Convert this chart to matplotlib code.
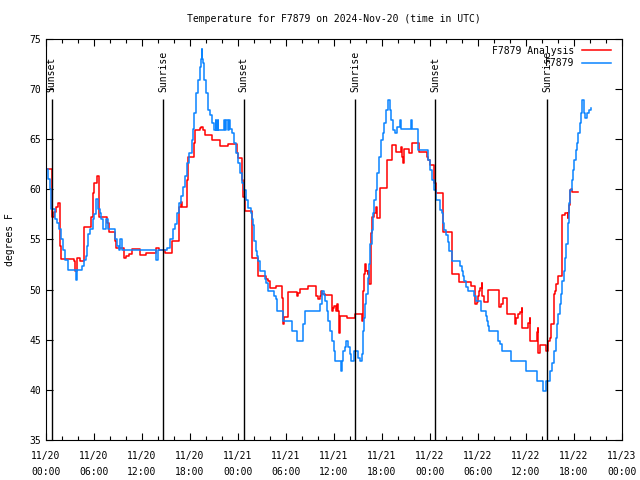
import matplotlib
matplotlib.use("Agg")
import matplotlib.pyplot as plt
from matplotlib.ticker import MultipleLocator

# hours since 2024-11-20 00:00 UTC
blue_t = [0.0, 0.3, 0.55, 0.63, 1.13, 1.38, 1.63, 1.88, 2.13, 2.38, 2.71, 3.7, 3.92,
          4.55, 4.8, 5.05, 5.17, 5.3, 5.55, 5.92, 6.05, 6.2, 6.3, 6.55, 6.7, 6.88, 7.13,
          7.5, 7.7, 8.63, 8.88, 9.1, 9.3, 9.45, 13.8, 14.0, 15.1, 15.55, 15.88, 16.13,
          16.38, 16.63, 16.88, 17.13, 17.38, 17.63, 17.88, 18.21, 18.38, 18.55, 18.8,
          19.05, 19.21, 19.38, 19.46, 19.55, 19.63, 19.8, 20.05, 20.3, 20.55, 20.8,
          20.96, 21.2, 21.3, 21.46, 21.55, 22.2, 22.38, 22.55, 22.7, 22.88, 23.05,
          23.3, 23.55, 23.8, 24.05, 24.3, 24.55, 24.8, 24.96, 25.2, 25.63, 25.71,
          25.88, 26.05, 26.21, 26.38, 26.55, 26.71, 27.38, 27.55, 27.8, 28.55, 28.71,
          28.88, 29.63, 30.8, 31.38, 32.13, 32.38, 34.3, 34.46, 34.71, 34.88, 35.13,
          35.3, 35.46, 35.71, 35.96, 36.13, 36.88, 36.96, 37.13, 37.38, 37.55, 37.8,
          37.96, 38.13, 38.55, 39.05, 39.2, 39.46, 39.63, 39.7, 39.88, 40.05, 40.21,
          40.38, 40.55, 40.71, 40.88, 41.05, 41.21, 41.38, 41.63, 41.88, 42.13, 42.3,
          42.55, 42.8, 42.96, 43.13, 43.38, 43.63, 43.88, 44.3, 44.38, 45.63, 45.8,
          46.55, 47.8, 48.05, 48.3, 48.55, 48.8, 49.21, 49.46, 49.63, 49.8, 50.05,
          50.21, 50.38, 50.8, 51.8, 51.96, 52.13, 52.3, 52.55, 52.71, 53.55, 53.8,
          54.38, 54.96, 55.13, 55.3, 55.38, 56.55, 56.8, 56.96, 58.13, 60.05, 61.38,
          62.13, 62.46, 63.05, 63.3, 63.46, 63.55, 63.71, 63.88, 64.05, 64.21, 64.38,
          64.55, 64.71, 64.88, 65.05, 65.21, 65.38, 65.55, 65.71, 65.88, 66.05, 66.21,
          66.38, 66.55, 66.71, 66.88, 67.05, 67.21, 67.38, 67.63, 67.88, 68.13]
blue_v = [62, 61, 60, 58, 57, 56.6, 56, 55, 54, 53, 52, 51, 52,
          52.4, 53, 53.4, 54.4, 55.5, 56, 57, 57.5, 58.6, 59, 58, 57.6, 57, 56,
          57, 56, 55, 54.4, 54, 55, 54, 53, 54, 54.2, 55, 56, 56.5,
          57.6, 58.6, 59.3, 60.2, 61.3, 62.6, 63.6, 64.9, 66, 67.6, 69.6,
          70.9, 72.2, 73, 74, 73, 72.6, 70.9, 69.6, 67.9, 67.4, 66.6,
          65.9, 66.9, 65.9, 66.9, 65.9, 66.9, 65.9, 66.9, 65.9, 66.9, 66,
          65.6, 64.6, 63.6, 62.6, 61.6, 60.6, 59.9, 58.9, 58.1, 57.6, 57,
          56.4, 54.9, 53.9, 53.4, 52.9, 51.9, 51.1, 50.7, 49.9, 49.4, 49.1,
          47.9, 46.9, 45.9, 44.9, 46.6, 47.9, 48.6, 49.9, 49.5, 48.9, 47.9,
          46.9, 45.9, 44.9, 43.9, 42.9, 41.9, 42.9, 43.9, 44.3, 44.9, 44.3,
          43.6, 42.9, 43.9, 43.2, 42.9, 43.6, 45.9, 47.2, 48.6, 49.6, 51.2,
          52.6, 54.6, 55.9, 57.6, 58.9, 59.9, 61.6, 63.2, 64.9, 65.6, 66.6,
          67.9, 68.9, 67.9, 66.9, 65.9, 65.6, 66.2, 66.9, 66, 66.9, 66,
          63.9, 62.9, 61.9, 60.9, 59.9, 58.9, 57.9, 57.6, 56.6, 55.9, 55.4,
          54.8, 53.9, 52.9, 52.4, 51.9, 51.4, 50.9, 50.3, 49.9, 49.4, 48.9,
          47.9, 47.4, 46.9, 46.4, 45.9, 44.9, 44.6, 43.9, 42.9, 41.9, 40.9,
          39.9, 40.9, 41.9, 42.7, 43.2, 43.9, 45.2, 46.6, 47.6, 48.6, 49.6,
          50.9, 51.9, 53.2, 54.6, 56.6, 58.6, 59.9, 60.9, 61.9, 62.9, 63.9,
          64.6, 65.6, 66.6, 67.6, 68.9, 67.6, 67.1, 67.6, 67.9, 68.1]

red_t = [0.05, 0.72, 1.05, 1.21, 1.46, 1.71, 1.8, 1.88, 3.46, 3.67, 3.88, 4.21, 4.71,
         4.8, 5.63, 5.88, 5.96, 6.38, 6.63, 7.63, 7.88, 8.63, 8.8, 9.71, 9.96, 10.38,
         10.71, 11.71, 12.55, 13.8, 14.13, 14.88, 15.71, 16.63, 16.88, 16.96, 17.63,
         17.71, 17.8, 18.46, 18.63, 19.21, 19.38, 19.63, 19.88, 20.71, 21.71, 22.71,
         23.88, 24.05, 24.46, 24.63, 24.88, 25.71, 25.8, 26.55, 27.55, 27.8, 27.96,
         28.71, 29.46, 29.63, 29.8, 30.3, 31.38, 31.55, 31.71, 32.8, 33.8, 34.05,
         34.21, 34.38, 34.55, 34.88, 35.71, 35.88, 36.05, 36.21, 36.38, 36.55, 36.63,
         36.8, 37.63, 38.63, 39.55, 39.63, 39.71, 39.88, 40.05, 40.21, 40.3, 40.38,
         40.63, 40.71, 41.05, 41.21, 41.38, 41.71, 42.63, 43.21, 43.71, 44.38, 44.55,
         44.63, 44.71, 45.38, 45.8, 46.63, 47.63, 47.8, 47.96, 48.55, 48.8, 49.63,
         50.71, 51.63, 53.13, 53.63, 53.88, 54.05, 54.13, 54.3, 54.46, 54.55, 54.8,
         55.21, 56.63, 56.88, 57.13, 57.63, 58.63, 58.8, 59.05, 59.3, 59.46, 59.55,
         60.3, 60.46, 60.55, 61.38, 61.46, 61.55, 61.71, 62.55, 62.71, 62.96, 63.13,
         63.55, 63.63, 63.71, 63.96, 64.05, 64.46, 64.55, 64.88, 65.21, 65.3, 65.38,
         65.46, 65.63, 65.8, 66.55]
red_v = [62, 57.2, 57.7, 58.2, 58.6, 57.2, 54.4, 53.1, 52.9, 51.9, 53.2, 52.9, 54.6,
         56.2, 57.2, 59.6, 60.6, 61.3, 57.2, 56.6, 55.7, 54.9, 54.2, 53.2, 53.4, 53.6,
         54.1, 53.5, 53.7, 54.2, 54.0, 53.7, 54.9, 58.2, 58.7, 58.2, 60.9,
         61.6, 63.2, 64.6, 65.9, 66.1, 66.2, 65.9, 65.4, 64.9, 64.3, 64.5,
         63.6, 63.1, 60.9, 59.2, 57.8, 56.6, 53.2, 51.4, 51.1, 50.9, 50.2,
         50.4, 49.2, 46.6, 47.3, 49.8, 49.4, 49.7, 50.1, 50.4, 49.4, 49.1,
         49.4, 49.9, 49.6, 49.5, 47.9, 48.2, 48.4, 47.9, 48.6, 47.9, 45.7,
         47.4, 47.2, 47.6, 46.9, 49.9, 51.6, 52.6, 51.9, 51.6, 51.9, 50.6,
         55.6, 57.2, 57.6, 58.2, 57.1, 60.1, 62.9, 64.4, 63.7, 64.2, 63.2,
         62.6, 64.0, 63.6, 64.6, 63.7, 63.2, 62.9, 62.4, 60.6, 59.6, 55.7,
         51.6, 50.8, 50.4, 48.6, 48.8, 49.4, 49.9, 50.2, 50.7, 49.4, 48.8,
         50.0, 48.3, 48.6, 49.2, 47.6, 46.6, 47.2, 47.6, 47.8, 48.2, 46.2,
         46.7, 47.2, 44.9, 45.8, 46.2, 43.7, 44.5, 43.9, 44.9, 45.2, 46.6,
         49.6, 49.9, 50.6, 50.9, 51.4, 56.6, 57.4, 57.6, 57.1, 57.6, 58.4,
         59.9, 60.0, 59.7, 59.7]

sunset_t = [0.72, 24.72, 48.68]
sunrise_t = [14.63, 38.63, 62.62]

xtick_labels = ["11/20\n00:00", "11/20\n06:00", "11/20\n12:00", "11/20\n18:00",
                "11/21\n00:00", "11/21\n06:00", "11/21\n12:00", "11/21\n18:00",
                "11/22\n00:00", "11/22\n06:00", "11/22\n12:00", "11/22\n18:00",
                "11/23\n00:00"]

plt.rcParams['font.family'] = ['DejaVu Sans Mono']
fs = 7

fig = plt.figure(figsize=(6.4, 4.8), dpi=100)
ax = fig.add_axes([46 / 640, 40 / 480, 576 / 640, 401 / 480])

ax.plot(red_t, red_v, drawstyle='steps-post', color='#ff0000', lw=1.1, label='F7879 Analysis')
ax.plot(blue_t, blue_v, drawstyle='steps-post', color='#0a84ff', lw=1.1, label='F7879')

for t in sunset_t:
    ax.vlines(t, 35, 69, color='black', lw=1)
    ax.text(t, 69.7, 'Sunset', rotation=90, ha='center', va='bottom', fontsize=fs)
for t in sunrise_t:
    ax.vlines(t, 35, 69, color='black', lw=1)
    ax.text(t, 69.7, 'Sunrise', rotation=90, ha='center', va='bottom', fontsize=fs)

ax.set_xlim(0, 72)
ax.set_ylim(35, 75)
ax.set_xticks(range(0, 73, 6))
ax.set_xticklabels(xtick_labels)
ax.xaxis.set_minor_locator(MultipleLocator(2))
ax.set_yticks(range(35, 76, 5))
ax.tick_params(which='both', direction='in', top=True, right=True, labelsize=fs)
ax.tick_params(which='major', length=5, width=0.8)
ax.tick_params(which='minor', length=3, width=0.8)
ax.tick_params(axis='x', pad=8)
for lbl in ax.get_xticklabels():
    lbl.set_linespacing(1.7)

ax.set_ylabel('degrees F', fontsize=fs, labelpad=10)
ax.set_title('Temperature for F7879 on 2024-Nov-20 (time in UTC)', fontsize=fs, pad=12)

leg = ax.legend(loc='upper right', markerfirst=False, frameon=False, fontsize=fs,
                handlelength=3.0, handletextpad=0.8, labelspacing=0.25,
                borderaxespad=0.3, bbox_to_anchor=(0.993, 1.0))
for txt in leg.get_texts():
    txt.set_ha('right')

fig.savefig('out.png', dpi=100)
